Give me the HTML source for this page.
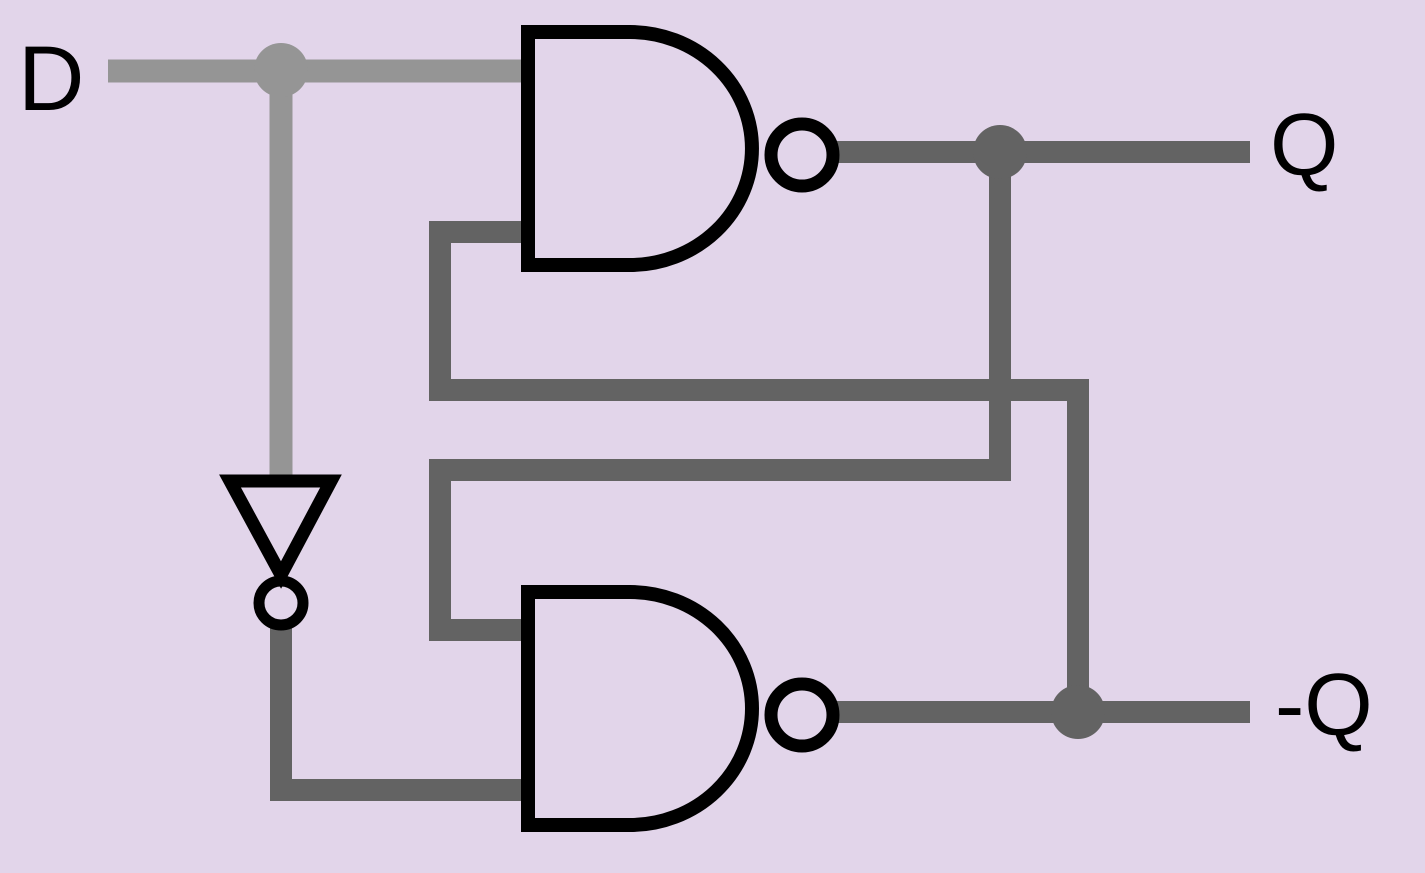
<!DOCTYPE html>
<html><head><style>
html,body{margin:0;padding:0;background:#e2d5ea;}
svg{display:block}
text{font-family:"Liberation Sans",sans-serif;fill:#000}
</style></head><body>
<svg width="1425" height="873" viewBox="0 0 1425 873" xmlns="http://www.w3.org/2000/svg">
<rect width="1425" height="873" fill="#e2d5ea"/>
<g fill="none" stroke-linecap="butt" stroke-linejoin="miter">
  <path d="M108 71 H528" stroke="#959595" stroke-width="23"/>
  <path d="M281 71 V478" stroke="#959595" stroke-width="23"/>
  <path d="M528 232 H440 V390 H1078 V712" stroke="#636363" stroke-width="22"/>
  <path d="M1000 152 V470 H440 V630 H528" stroke="#636363" stroke-width="22"/>
  <path d="M281 620 V790 H528" stroke="#636363" stroke-width="22"/>
  <path d="M835 152 H1250" stroke="#636363" stroke-width="22"/>
  <path d="M835 712 H1250" stroke="#636363" stroke-width="22"/>
  <path d="M528 32 H630 A122 116.5 0 0 1 630 265 H528 Z" stroke="#000" stroke-width="14"/>
  <path d="M528 592 H630 A122 116.5 0 0 1 630 825 H528 Z" stroke="#000" stroke-width="14"/>
  <circle cx="802" cy="155" r="31" stroke="#000" stroke-width="13"/>
  <circle cx="802" cy="715" r="31" stroke="#000" stroke-width="13"/>
  <path d="M230 481 H331 L281 575 Z" stroke="#000" stroke-width="13"/>
  <circle cx="281" cy="603" r="22" stroke="#000" stroke-width="11"/>
</g>
<circle cx="281" cy="70" r="27" fill="#959595"/>
<circle cx="1000" cy="152" r="27" fill="#636363"/>
<circle cx="1078" cy="712" r="27" fill="#636363"/>
<text x="18" y="110" font-size="92">D</text>
<text x="1270" y="175" font-size="88">Q</text>
<text x="1275" y="735" font-size="88">-Q</text>
</svg>
</body></html>
